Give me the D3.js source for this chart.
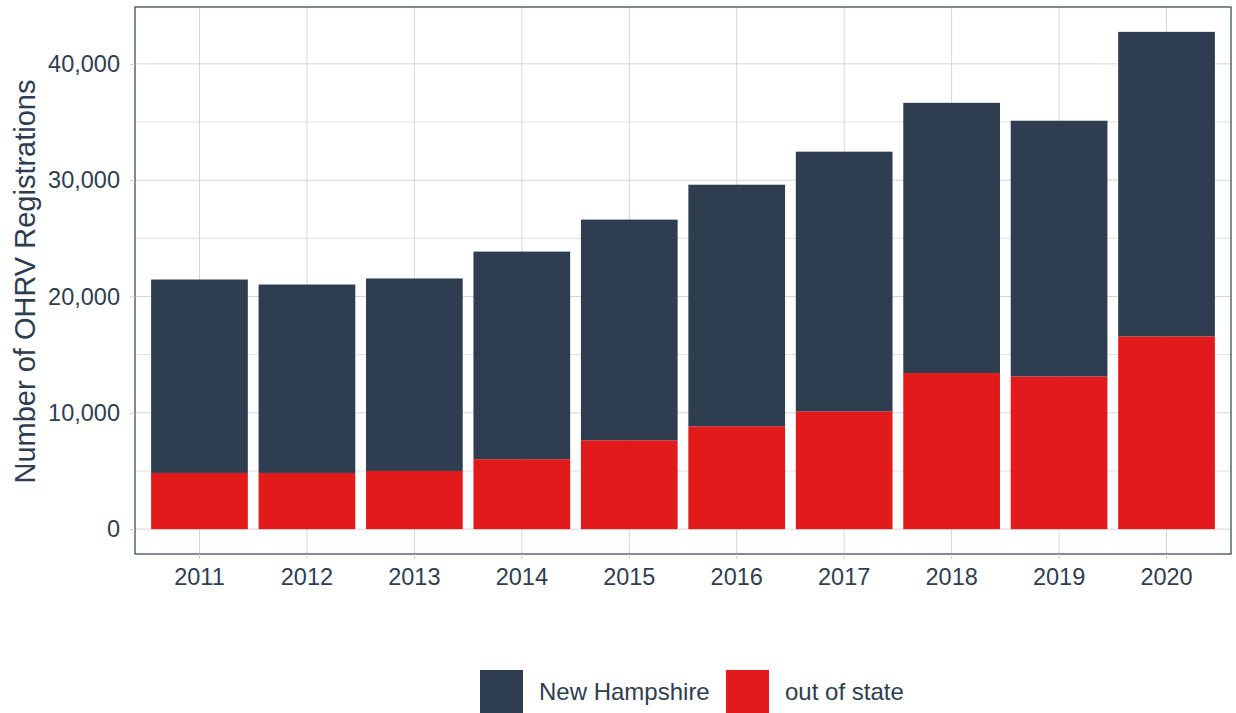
<!DOCTYPE html>
<html>
<head>
<meta charset="utf-8">
<style>
  body { margin: 0; padding: 0; background: white; overflow: hidden; }
  text { font-family: "Liberation Sans", Arial, sans-serif; fill: #2e3e50; }
</style>
</head>
<body>
<script src="https://cdn.jsdelivr.net/npm/d3@7"></script>
<script>
var years = ["2011", "2012", "2013", "2014", "2015", "2016", "2017", "2018", "2019", "2020"];
var outOfState = [4830, 4830, 5000, 6010, 7640, 8840, 10130, 13420, 13130, 16570];
var newHampshire = [16630, 16200, 16550, 17850, 18970, 20770, 22320, 23230, 21980, 26180];
var seriesNames = ["New Hampshire", "out of state"];
var yTicks = [0, 10000, 20000, 30000, 40000];
var yMinor = [5000, 15000, 25000, 35000];

var W = 1236, H = 713;
var pLeft = 135, pRight = 1231, pTop = 7, pBottom = 554;
var dark = "#2e3e50", red = "#e31a1c";

var rows = years.map(function(y, i) {
    return { year: y, "out of state": outOfState[i], "New Hampshire": newHampshire[i] };
});
// out of state sits at the bottom of each bar
var stacked = d3.stack().keys(["out of state", "New Hampshire"])(rows);

var maxTotal = d3.max(rows, function(d) { return d["out of state"] + d["New Hampshire"]; });
var pad = maxTotal * 0.05;

var x = d3.scaleBand().domain(years).range([pLeft, pRight]).paddingInner(0.1).paddingOuter(0.15);
var y = d3.scaleLinear().domain([-pad, maxTotal + pad]).range([pBottom, pTop]);
var color = d3.scaleOrdinal().domain(seriesNames).range([dark, red]);

var svg = d3.select("body").append("svg").attr("width", W).attr("height", H);

// grid
var grid = svg.append("g");
grid.selectAll(".minor").data(yMinor).enter().append("line")
    .attr("x1", pLeft).attr("x2", pRight)
    .attr("y1", function(d) { return y(d); }).attr("y2", function(d) { return y(d); })
    .attr("stroke", "#e0e0e0").attr("stroke-width", 1);
grid.selectAll(".major").data(yTicks).enter().append("line")
    .attr("x1", pLeft).attr("x2", pRight)
    .attr("y1", function(d) { return y(d); }).attr("y2", function(d) { return y(d); })
    .attr("stroke", "#d6d6d6").attr("stroke-width", 1);
grid.selectAll(".vx").data(years).enter().append("line")
    .attr("x1", function(d) { return x(d) + x.bandwidth() / 2; })
    .attr("x2", function(d) { return x(d) + x.bandwidth() / 2; })
    .attr("y1", pTop).attr("y2", pBottom)
    .attr("stroke", "#d6d6d6").attr("stroke-width", 1);

// bars
svg.append("g").selectAll("g").data(stacked).enter().append("g")
    .attr("fill", function(d) { return color(d.key); })
    .selectAll("rect").data(function(d) { return d; }).enter().append("rect")
    .attr("x", function(d) { return x(d.data.year); })
    .attr("width", x.bandwidth())
    .attr("y", function(d) { return y(d[1]); })
    .attr("height", function(d) { return y(d[0]) - y(d[1]); });

// panel border
svg.append("rect")
    .attr("x", pLeft).attr("y", pTop)
    .attr("width", pRight - pLeft).attr("height", pBottom - pTop)
    .attr("fill", "none").attr("stroke", dark).attr("stroke-width", 1.2);

// axes
var yAxis = svg.append("g")
    .attr("transform", "translate(" + pLeft + ",0)")
    .call(d3.axisLeft(y).tickValues(yTicks).tickFormat(d3.format(",")).tickSize(5).tickPadding(10));
var xAxis = svg.append("g")
    .attr("transform", "translate(0," + pBottom + ")")
    .call(d3.axisBottom(x).tickSize(5).tickPadding(9));
[xAxis, yAxis].forEach(function(a) {
    a.select(".domain").remove();
    a.selectAll(".tick line").attr("stroke", "#cccccc");
    a.selectAll(".tick text").style("font-size", "23.5px").attr("fill", dark);
});

svg.append("text")
    .attr("transform", "translate(35," + ((pTop + pBottom) / 2 + 1) + ") rotate(-90)")
    .attr("text-anchor", "middle")
    .style("font-size", "29px")
    .text("Number of OHRV Registrations");

// legend
var legendX = [480, 726];
var lg = svg.append("g").selectAll("g").data(seriesNames).enter().append("g")
    .attr("transform", function(d, i) { return "translate(" + legendX[i] + ",670)"; });
lg.append("rect").attr("width", 43).attr("height", 43).attr("fill", function(d) { return color(d); });
lg.append("text").attr("x", 59).attr("y", 22).attr("dy", "0.35em")
    .style("font-size", "24px")
    .text(function(d) { return d; });
</script>
</body>
</html>
